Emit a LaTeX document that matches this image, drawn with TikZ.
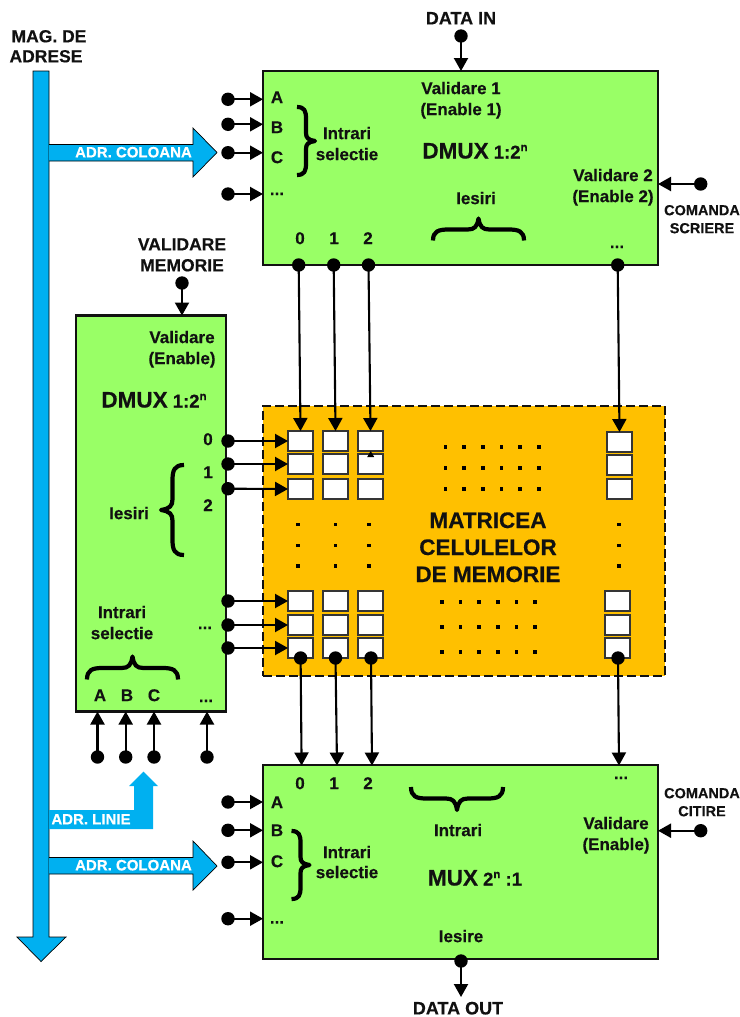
\documentclass[tikz,border=0pt]{standalone}
\usepackage{fontspec}
\setmainfont{Liberation Sans}[BoldFeatures={FakeBold=0.35}]
\usetikzlibrary{arrows.meta}
\definecolor{boxgreen}{HTML}{99FF66}
\definecolor{matorange}{HTML}{FFC000}
\definecolor{busblue}{HTML}{00B0F0}
\definecolor{ink}{HTML}{111111}
\newcommand{\supn}{\raisebox{7.5pt}{\fontsize{11.5}{11.5}\selectfont n}}
% centre of the end line, half length, height, rotation (0: tip down, 180: up, 90: right, -90: left)
\newcommand{\curlybrace}[5]{%
  \draw[bracestroke,shift={(#1,#2)},rotate=#5,xscale=#3,yscale=#4]
    (-1,0) .. controls (-1,.42) and (-.88,.5) .. (-.66,.5) -- (-.24,.5)
    .. controls (-.09,.5) and (-.03,.62) .. (0,1)
    .. controls (.03,.62) and (.09,.5) .. (.24,.5) -- (.66,.5)
    .. controls (.88,.5) and (1,.42) .. (1,0);}
\tikzset{
  blockbox/.style={draw=ink,fill=boxgreen,line width=2.4pt,outer sep=0pt,inner sep=0pt},
  cellbox/.style={draw=ink!85,fill=white,line width=1.5pt,minimum width=25pt,minimum height=20pt,outer sep=0pt,inner sep=0pt},
  pinball/.style={circle,fill=black,minimum size=13.4pt,inner sep=0pt,outer sep=0pt},
  conn/.style={line width=2.1pt,draw=black,-{Triangle[length=13pt,width=14pt]}},
  labbase/.style={anchor=base,inner sep=0pt,outer sep=0pt,align=center,text=ink},
  lab/.style={labbase,yshift=-6.1pt,font=\fontsize{17}{19}\selectfont\bfseries},
  outerlab/.style={labbase,yshift=-6.3pt,font=\fontsize{17.5}{19}\selectfont\bfseries},
  datalab/.style={labbase,yshift=-6.4pt,font=\fontsize{18}{19}\selectfont\bfseries},
  smalllab/.style={labbase,yshift=-5.2pt,font=\fontsize{14.5}{16}\selectfont\bfseries},
  whitelab/.style={labbase,yshift=-5.4pt,text=white,font=\fontsize{15}{16}\selectfont\bfseries},
  biglab/.style={labbase,yshift=-8pt,font=\fontsize{22.5}{24}\selectfont\bfseries},
  titlelab/.style={labbase,yshift=-7.5pt,font=\fontsize{18.5}{20}\selectfont\bfseries},
  dimdot/.style={fill=black,minimum size=3.6pt,inner sep=0pt,outer sep=0pt},
  busfill/.style={fill=busblue,draw=black,line width=0.7pt,line join=miter},
  bracestroke/.style={draw=black,line width=4.2pt,line join=round},
}
\begin{document}
\begin{tikzpicture}[x=1pt,y=-1pt]
\useasboundingbox (0,0) rectangle (739,1017);
% address bus
\draw[busfill] (33,71) -- (49,71) -- (49,937) -- (66,937) -- (41,961.5) -- (17,937) -- (33,937) -- cycle;
\draw[busfill] (49,144.5) -- (193,144.5) -- (193,128) -- (217,152.5) -- (193,177) -- (193,161) -- (49,161);
\draw[busfill] (49,857.5) -- (193,857.5) -- (193,841) -- (217,866) -- (193,890) -- (193,874) -- (49,874);
\fill[busblue] (49,810) -- (134,810) -- (134,786) -- (129,786) -- (143.5,771.5) -- (158,786) -- (153,786) -- (153,829) -- (49,829) -- cycle;
% memory matrix
\node[draw=ink,dash pattern=on 9pt off 4pt,fill=matorange,line width=1.4pt,minimum width=402pt,minimum height=270pt,inner sep=0pt,outer sep=0pt] (matrix) at (464,541) {};
% blocks
\node[blockbox,minimum width=395pt,minimum height=194pt] (dmuxcol) at (460.5,168) {};
\node[blockbox,minimum width=150pt,minimum height=396pt] (dmuxrow) at (151,513.5) {};
\node[blockbox,minimum width=395pt,minimum height=194pt] (muxout) at (460.5,862) {};
% cells
\foreach \cname/\cx in {a/300.5,b/335.5,c/370.5}{
  \foreach \rname/\ry in {1/441,2/464,3/489,4/601,5/625,6/648}{
    \node[cellbox] (c\cname\rname) at (\cx,\ry) {};
  }
}
\node[cellbox] (cd1) at (619.5,442) {};
\node[cellbox] (cd2) at (619.5,465) {};
\node[cellbox] (cd3) at (619.5,489) {};
\node[cellbox] (cd4) at (617.5,601) {};
\node[cellbox] (cd5) at (617.5,625) {};
\node[cellbox] (cd6) at (617.5,648) {};
% dots in the matrix
\foreach \dx in {298,335.5,369,619}{
  \foreach \dy in {524.5,545.5,566}{
    \node[dimdot] at (\dx,\dy) {};
  }
}
\foreach \gi in {0,...,5}{
  \foreach \dy in {447,468,489}{
    \node[dimdot] at ({445.3+18.7*\gi},\dy) {};
  }
  \foreach \dy in {602,627,652}{
    \node[dimdot] at ({441.7+18.7*\gi},\dy) {};
  }
}
% pins
\foreach \pn/\px/\py in {
  ta/228/99.3,tb/228/124.3,tc/228/152.7,td/228/194,
  ba/228/802,bb/228/830.3,bc/228/862.3,bd/228/918.7,
  la/228/441,lb/228/464,lc/228/488.7,ld/228/601,le/228/625,lf/228/648,
  sa/97.5/757,sb/125.7/757,sc/154/757,sd/207/757,
  oa/298.7/265,ob/333.7/265,oc/368.5/265,od/617.7/265,
  ia/300.6/658,ib/335.5/658,ic/371/658,id/618/658,
  din/461/36,vmem/182/283,wr/700.7/184,rd/700.7/830.7,dout/461/961}{
  \node[pinball] (p\pn) at (\px,\py) {};
}
\coordinate (mi0) at (301.6,765.5);
\coordinate (mi1) at (337,765.5);
\coordinate (mi2) at (372,765.5);
\coordinate (mi3) at (619,765.5);
\coordinate (doutend) at (461,997);
% connectors
\foreach \pn in {ta,tb,tc,td}{\draw[conn] (p\pn.center) -- (p\pn.center -| dmuxcol.west);}
\foreach \pn in {ba,bb,bc,bd}{\draw[conn] (p\pn.center) -- (p\pn.center -| muxout.west);}
\draw[conn] (pla.center) -- (ca1.west);
\draw[conn] (plb.center) -- (ca2.west);
\draw[conn] (plc.center) -- (ca3.west);
\draw[conn] (pld.center) -- (ca4.west);
\draw[conn] (ple.center) -- (ca5.west);
\draw[conn] (plf.center) -- (ca6.west);
\foreach \pn in {sa,sb,sc,sd}{\draw[conn] (p\pn.center) -- (p\pn.center |- dmuxrow.south);}
\draw[conn] (poa.center) -- (ca1.north);
\draw[conn] (pob.center) -- (cb1.north);
\draw[conn] (poc.center) -- (cc1.north);
\draw[conn] (pod.center) -- (cd1.north);
\draw[conn] (pia.center) -- (mi0);
\draw[conn] (pib.center) -- (mi1);
\draw[conn] (pic.center) -- (mi2);
\draw[conn] (pid.center) -- (mi3);
\draw[conn] (pdin.center) -- (pdin.center |- dmuxcol.north);
\draw[conn] (pvmem.center) -- (pvmem.center |- dmuxrow.north);
\draw[conn] (pwr.center) -- (pwr.center -| dmuxcol.east);
\draw[conn] (prd.center) -- (prd.center -| muxout.east);
\draw[conn] (pdout.center) -- (doutend);
% stray tip on the cell
\fill[black] (370.7,451) -- (374.2,457) -- (367.2,457) -- cycle;
% braces
\curlybrace{297}{141}{34}{18}{90}
\curlybrace{291.5}{865}{34}{18}{90}
\curlybrace{478.5}{240.5}{45.5}{22}{180}
\curlybrace{457}{787}{46}{23}{0}
\curlybrace{184}{510}{45}{23}{-90}
\curlybrace{132.5}{679.5}{45.5}{23}{180}
% outer labels
\node[outerlab] (tmag) at (49,36) {MAG. DE};
\node[outerlab] (tadr) at (46,56) {ADRESE};
\node[datalab] (tdin) at (461,18) {DATA IN};
\node[outerlab] (tval) at (182,244) {VALIDARE};
\node[outerlab] (tmem) at (182,265) {MEMORIE};
\node[smalllab] (tcs1) at (702,210) {COMANDA};
\node[smalllab] (tcs2) at (702,228) {SCRIERE};
\node[smalllab] (tcc1) at (702,793) {COMANDA};
\node[smalllab] (tcc2) at (702,811) {CITIRE};
\node[datalab] (tdout) at (458,1008) {DATA OUT};
\node[whitelab] (tadc1) at (133.5,152) {ADR. COLOANA};
\node[whitelab] (tadc2) at (133.5,865) {ADR. COLOANA};
\node[whitelab] (tadl) at (91,819) {ADR. LINIE};
% top block labels
\node[lab] (ta) at (277,97) {A};
\node[lab] (tb) at (277,127) {B};
\node[lab] (tc) at (277,157) {C};
\node[lab] (td) at (277,189) {...};
\node[lab] (tis1) at (347,133) {Intrari};
\node[lab] (tis2) at (347,154) {selectie};
\node[lab] (to0) at (300,238) {0};
\node[lab] (to1) at (334,238) {1};
\node[lab] (to2) at (368,238) {2};
\node[lab] (to3) at (617,242) {...};
\node[lab] (tv1) at (461,88) {Validare 1};
\node[lab] (te1) at (461,109) {(Enable 1)};
\node[titlelab] (tdm1) at (475,151) {{\fontsize{22.5}{24}\selectfont DMUX} 1:2\supn};
\node[lab] (tie) at (476,198) {Iesiri};
\node[lab] (tv2) at (613,175) {Validare 2};
\node[lab] (te2) at (613,196) {(Enable 2)};
% left block labels
\node[lab] (lv) at (182,337) {Validare};
\node[lab] (le) at (182,358) {(Enable)};
\node[titlelab] (ldm) at (154,400) {{\fontsize{22.5}{24}\selectfont DMUX} 1:2\supn};
\node[lab] (l0) at (208,439) {0};
\node[lab] (l1) at (208,472) {1};
\node[lab] (l2) at (208,505) {2};
\node[lab] (lie) at (129,513) {Iesiri};
\node[lab] (lis1) at (122,612) {Intrari};
\node[lab] (lis2) at (122,633) {selectie};
\node[lab] (ldots) at (205,623) {...};
\node[lab] (la) at (100,695) {A};
\node[lab] (lb) at (127,695) {B};
\node[lab] (lc) at (154,695) {C};
\node[lab] (ld) at (206,696) {...};
% matrix labels
\node[biglab] (m1) at (488,520) {MATRICEA};
\node[biglab] (m2) at (488,547) {CELULELOR};
\node[biglab] (m3) at (488,574) {DE MEMORIE};
% bottom block labels
\node[lab] (b0) at (300,783) {0};
\node[lab] (b1) at (334,783) {1};
\node[lab] (b2) at (368,783) {2};
\node[lab] (b3) at (621,773) {...};
\node[lab] (ba) at (277,802) {A};
\node[lab] (bb) at (277,830) {B};
\node[lab] (bc) at (277,861) {C};
\node[lab] (bd) at (277,917.5) {...};
\node[lab] (bis1) at (347,852) {Intrari};
\node[lab] (bis2) at (347,872) {selectie};
\node[lab] (bin) at (458,830) {Intrari};
\node[lab] (bv) at (616,823) {Validare};
\node[lab] (be) at (616,844) {(Enable)};
\node[titlelab] (bm) at (475,878) {{\fontsize{22.5}{24}\selectfont MUX} 2\supn{} :1};
\node[lab] (bie) at (461,936) {Iesire};
\end{tikzpicture}
\end{document}
